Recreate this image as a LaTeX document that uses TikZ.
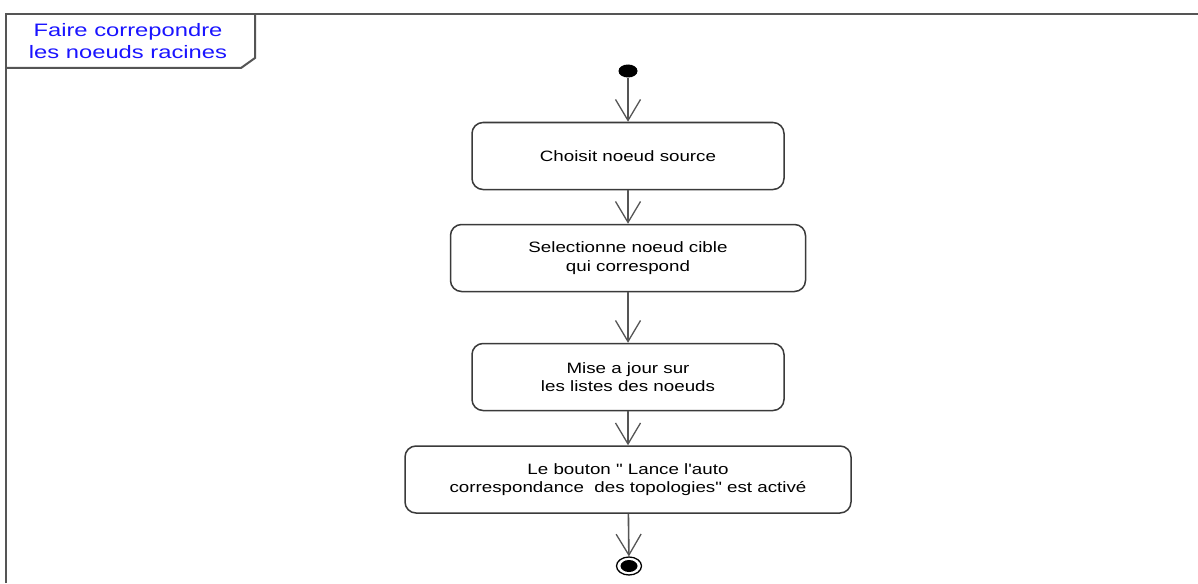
\documentclass[tikz,border=0pt]{standalone}
\usepackage{fontspec}
\usetikzlibrary{arrows.meta,shapes.geometric}
\newfontfamily\boxfont[FakeStretch=1.25,Ligatures=TeXOff]{Liberation Sans}
\newfontfamily\tagfont[FakeStretch=1.32,Ligatures=TeXOff]{Liberation Sans}
\definecolor{framegray}{HTML}{555555}
\definecolor{boxgray}{HTML}{3A3A3A}
\definecolor{flowgray}{HTML}{555555}
\definecolor{tagblue}{HTML}{1A14FF}
\tikzset{
  action/.style={draw=boxgray, line width=1.5pt, rounded corners=11pt, fill=white,
    align=center, font=\boxfont\fontsize{15}{18.5}\selectfont, inner sep=0pt},
  flow/.style={draw=flowgray, line width=1.6pt,
    -{Straight Barb[length=21pt,width=25pt,line width=1.3pt]}},
  framebox/.style={draw=framegray, line width=2pt},
}
\begin{document}
\begin{tikzpicture}[x=1pt,y=-1pt]
\useasboundingbox (0,0) rectangle (1198,583);
\fill[white] (0,0) rectangle (1198,583);

% activity frame with its name tag
\draw[framebox] (6,583) -- (6,14) -- (1198,14);
\draw[framebox] (6,68) -- (241,68) -- (255,58) -- (255,14);
\node[text=tagblue, font=\tagfont\fontsize{18}{21.5}\selectfont, align=center]
  (tag) at (128,41) {Faire correpondre\\les noeuds racines};

% initial node
\node[ellipse, fill=black, minimum width=19pt, minimum height=13pt, inner sep=0pt]
  (start) at (628,71) {};

% actions
\node[action, minimum width=312pt, minimum height=67pt] (a1) at (628,156)
  {Choisit noeud source};
\node[action, minimum width=355pt, minimum height=67pt] (a2) at (628,258)
  {Selectionne noeud cible\\qui correspond};
\node[action, minimum width=312pt, minimum height=67pt] (a3) at (628,377)
  {Mise a jour sur\\les listes des noeuds};
\node[action, minimum width=446pt, minimum height=67pt] (a4) at (628,479.5)
  {Le bouton " Lance l'auto\\correspondance\ \ des topologies" est activé};

% final node
\node[ellipse, draw=black, line width=1.3pt, fill=white, minimum width=25pt,
  minimum height=18pt, inner sep=0pt] (stop) at (629,566) {};
\node[ellipse, fill=black, minimum width=17pt, minimum height=12pt, inner sep=0pt]
  (stopdot) at (stop.center) {};

% control flows
\draw[flow] (start) -- (a1);
\draw[flow] (a1) -- (a2);
\draw[flow] (a2) -- (a3);
\draw[flow] (a3) -- (a4);
\draw[flow] (a4) -- (stop);
\end{tikzpicture}
\end{document}
